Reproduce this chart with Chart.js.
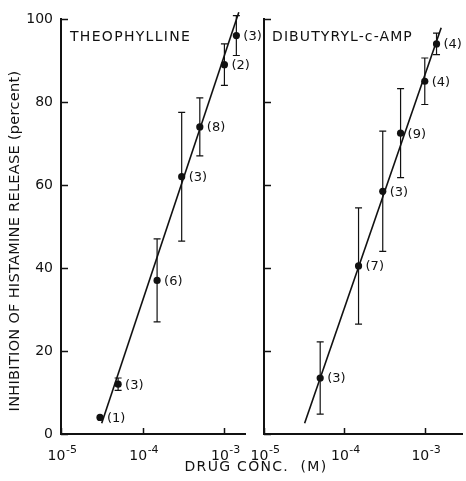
<!DOCTYPE html>
<html><head><meta charset="utf-8">
<script src="https://cdn.jsdelivr.net/npm/chart.js@4.4.1/dist/chart.umd.min.js"></script>
<style>
html,body{margin:0;padding:0;background:#fff;}
#wrap{position:relative;width:466px;height:481px;}
canvas{position:absolute;left:0;top:0;}
</style></head><body>
<div id="wrap"><canvas id="c1" width="466" height="481" style="width:466px;height:481px"></canvas><canvas id="c2" width="466" height="481" style="width:466px;height:481px"></canvas></div>
<script>
// ---- data ----
const theoConc = [3e-5, 5e-5, 1.5e-4, 3e-4, 5e-4, 1e-3, 1.4e-3];
const theoMean = [4, 12, 37, 62, 74, 89, 96];
const theoErr  = [0, 1.5, 10, 15.5, 7, 5, 4.8];
const theoN    = ['(1)', '(3)', '(6)', '(3)', '(8)', '(2)', '(3)'];
const theoLineConc = [3.15e-5, 1.5e-3];
const theoLineY    = [2.6, 101.6];

const dbcConc = [5e-5, 1.5e-4, 3e-4, 5e-4, 1e-3, 1.4e-3];
const dbcMean = [13.5, 40.5, 58.5, 72.5, 85, 94];
const dbcErr  = [8.7, 14, 14.5, 10.7, 5.6, 2.6];
const dbcN    = ['(3)', '(7)', '(3)', '(9)', '(4)', '(4)'];
const dbcLineConc = [3.2e-5, 1.6e-3];
const dbcLineY    = [2.6, 97.9];

const xTickValues = [1e-5, 1e-4, 1e-3];
const xTickExps   = ['-5', '-4', '-3'];
const yTickValues = [0, 20, 40, 60, 80, 100];

const INK = '#111';
const FONT = '"DejaVu Sans", sans-serif';

function pts(xs, ys) { return xs.map((x, i) => ({x: x, y: ys[i]})); }

function makePlugin(p) {
  return {
    id: 'panel_' + p.name,
    afterDatasetsDraw(chart) {
      const ctx = chart.ctx, xs = chart.scales.x, ys = chart.scales.y;
      const area = chart.chartArea;
      ctx.save();
      // error bars
      const meta = chart.getDatasetMeta(1);
      ctx.strokeStyle = INK; ctx.lineWidth = 1.2;
      p.err.forEach((e, i) => {
        if (!e) return;
        const px = meta.data[i].x;
        const t = ys.getPixelForValue(p.mean[i] + e), b = ys.getPixelForValue(p.mean[i] - e);
        ctx.beginPath();
        ctx.moveTo(px, t); ctx.lineTo(px, b);
        ctx.moveTo(px - 3.5, t); ctx.lineTo(px + 3.5, t);
        ctx.moveTo(px - 3.5, b); ctx.lineTo(px + 3.5, b);
        ctx.stroke();
      });
      // n labels
      ctx.fillStyle = INK;
      ctx.font = '13px ' + FONT;
      ctx.textAlign = 'left'; ctx.textBaseline = 'middle';
      p.n.forEach((s, i) => {
        const el = meta.data[i];
        ctx.fillText(s, el.x + 7, el.y + 1);
      });
      // inward tick marks
      ctx.lineWidth = 1.5;
      ctx.beginPath();
      const ax = ys.right;
      yTickValues.forEach(v => {
        const y = Math.round(ys.getPixelForValue(v)) + 0.5;
        ctx.moveTo(ax, y); ctx.lineTo(ax + 7, y);
      });
      xTickValues.forEach(v => {
        const x = Math.round(xs.getPixelForValue(v)) + 0.5;
        ctx.moveTo(x, xs.top); ctx.lineTo(x, xs.top - 6);
      });
      ctx.stroke();
      // x tick labels with superscript exponent
      xTickValues.forEach((v, i) => {
        const x = xs.getPixelForValue(v);
        ctx.font = '14px ' + FONT;
        const w1 = ctx.measureText('10').width;
        ctx.font = '11px ' + FONT;
        const w2 = ctx.measureText(xTickExps[i]).width;
        const x0 = x - (w1 + w2) / 2 + 1;
        ctx.textBaseline = 'alphabetic'; ctx.textAlign = 'left';
        ctx.font = '14px ' + FONT;
        ctx.fillText('10', x0, 460);
        ctx.font = '11px ' + FONT;
        ctx.fillText(xTickExps[i], x0 + w1 + 0.5, 453);
      });
      // panel title
      ctx.font = '14px ' + FONT;
      ctx.letterSpacing = p.ls + 'px';
      ctx.textAlign = 'left'; ctx.textBaseline = 'alphabetic';
      ctx.fillText(p.title, area.left + p.titleDx, 41);
      ctx.letterSpacing = '0px';
      if (p.extra) p.extra(ctx, chart);
      ctx.restore();
    }
  };
}

function makeChart(id, p) {
  return new Chart(document.getElementById(id), {
    type: 'scatter',
    data: {
      datasets: [
        {data: pts(p.lineConc, p.lineY), showLine: true, borderColor: INK, borderWidth: 1.6,
         pointRadius: 0, clip: false, order: 2},
        {data: pts(p.conc, p.mean), pointRadius: 3.6, pointBackgroundColor: INK,
         pointBorderColor: INK, borderWidth: 0, clip: false, order: 1}
      ]
    },
    options: {
      responsive: false, animation: false, devicePixelRatio: 1,
      layout: {padding: {top: 19, left: p.padLeft, right: p.padRight, bottom: 0}},
      plugins: {legend: {display: false}, tooltip: {enabled: false}},
      scales: {
        x: {type: 'logarithmic', min: 1e-5, max: p.xmax,
            grid: {display: false, drawTicks: false},
            border: {display: true, color: INK, width: 2},
            ticks: {display: false},
            afterFit: s => { s.height = 47; }},
        y: {min: 0, max: 100,
            grid: {display: false, drawTicks: false},
            border: {display: true, color: INK, width: 2},
            ticks: {display: p.yLabels, stepSize: 20, padding: 8, color: INK,
                    font: {family: FONT, size: 14}},
            afterFit: s => { s.width = p.yWidth; }}
      }
    },
    plugins: [makePlugin(p)]
  });
}

makeChart('c1', {
  name: 'theo', conc: theoConc, mean: theoMean, err: theoErr, n: theoN,
  lineConc: theoLineConc, lineY: theoLineY, xmax: Math.pow(10, -2.748),
  padLeft: 0, padRight: 221, yWidth: 61, yLabels: true,
  title: 'THEOPHYLLINE', titleDx: 9, ls: 1.3,
  extra: (ctx) => {
    ctx.fillStyle = INK;
    ctx.font = '14.5px ' + FONT;
    ctx.letterSpacing = '0.3px';
    ctx.save();
    ctx.translate(15, 241);
    ctx.rotate(-Math.PI / 2);
    ctx.textAlign = 'center'; ctx.textBaseline = 'middle';
    ctx.fillText('INHIBITION OF HISTAMINE RELEASE (percent)', 0, 0);
    ctx.restore();
    ctx.font = '14px ' + FONT;
    ctx.letterSpacing = '1.3px';
    ctx.textAlign = 'center'; ctx.textBaseline = 'middle';
    ctx.fillText('DRUG CONC.  (M)', 256, 467);
    ctx.letterSpacing = '0px';
    ctx.textAlign = 'left';
  }
});

makeChart('c2', {
  name: 'dbc', conc: dbcConc, mean: dbcMean, err: dbcErr, n: dbcN,
  lineConc: dbcLineConc, lineY: dbcLineY, xmax: Math.pow(10, -2.537),
  padLeft: 250, padRight: 1, yWidth: 14, yLabels: false,
  title: 'DIBUTYRYL-c-AMP', titleDx: 8, ls: 1.1
});
</script>
</body></html>
